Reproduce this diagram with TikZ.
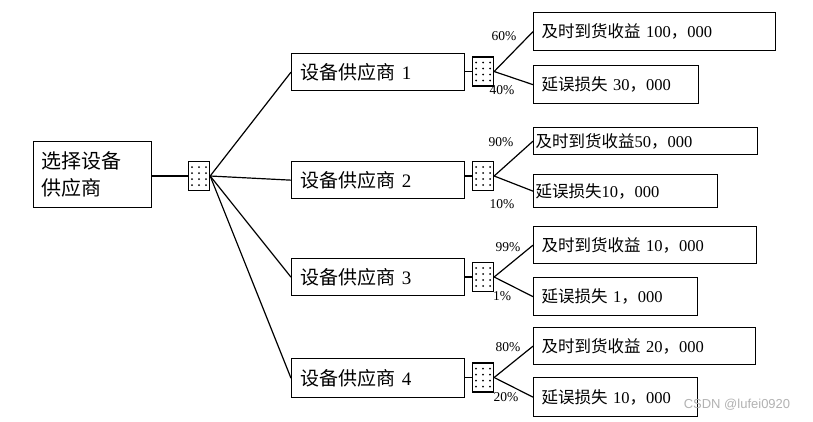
\documentclass[tikz,border=0pt]{standalone}
\usepackage{fontspec}
\setmainfont{Liberation Serif}
\newfontfamily\cjk{Noto Sans CJK SC}
\newfontfamily\wmfont{Liberation Sans}
\begin{document}
\begin{tikzpicture}[x=1pt,y=-1pt,
  box/.style={draw, line width=1.3pt, anchor=north west, inner ysep=0pt, inner xsep=8pt, align=left},
  outc/.style={box, font=\fontsize{16.5}{18}\selectfont},
  supp/.style={box, inner xsep=9pt, text width=155pt, minimum height=37pt, font=\fontsize{19}{22}\selectfont},
  chance/.style={draw, line width=1.3pt, minimum width=21pt, minimum height=29pt, inner sep=0pt,
    path picture={
      \foreach \xx in {-7,0,7}{
        \foreach \yy in {-9,-3,3,9}{
          \fill ([xshift=\xx pt, yshift=\yy pt]path picture bounding box.center) circle (1pt);}}}},
  pct/.style={inner sep=0pt, font=\fontsize{13.5}{13.5}\selectfont},
  link/.style={line width=1.2pt}]
\useasboundingbox (0,0) rectangle (813,421);

% root
\node[box, text width=102pt, minimum height=66pt, font=\fontsize{20}{27}\selectfont] (root) at (33,141) {{\cjk 选择设备}\\{\cjk 供应商}};
\node[chance] (rc) at (199,176) {};

% suppliers
\node[supp] (s1) at (291,53) {{\cjk 设备供应商} 1};
\node[supp] (s2) at (291,161) {{\cjk 设备供应商} 2};
\node[supp] (s3) at (291,258) {{\cjk 设备供应商} 3};
\node[supp, minimum height=39pt] (s4) at (291,358) {{\cjk 设备供应商} 4};

% chance nodes
\node[chance] (c1) at (483,71.5) {};
\node[chance] (c2) at (483,176) {};
\node[chance] (c3) at (483,277) {};
\node[chance] (c4) at (483,377.5) {};

% outcomes
\node[outc, text width=226pt, minimum height=38pt] (o1a) at (533,12) {{\cjk 及时到货收益} 100{\cjk ，}000};
\node[outc, text width=149pt, minimum height=38pt] (o1b) at (533,65) {{\cjk 延误损失} 30{\cjk ，}000};
\node[outc, inner xsep=2pt, text width=220pt, minimum height=27pt] (o2a) at (533,127) {{\cjk 及时到货收益}50{\cjk ，}000};
\node[outc, inner xsep=2pt, text width=180pt, minimum height=33pt] (o2b) at (533,174) {{\cjk 延误损失}10{\cjk ，}000};
\node[outc, text width=207pt, minimum height=37pt] (o3a) at (533,226) {{\cjk 及时到货收益} 10{\cjk ，}000};
\node[outc, text width=148pt, minimum height=38pt] (o3b) at (533,277) {{\cjk 延误损失} 1{\cjk ，}000};
\node[outc, text width=206pt, minimum height=37pt] (o4a) at (533,327) {{\cjk 及时到货收益} 20{\cjk ，}000};
\node[outc, text width=148pt, minimum height=39pt] (o4b) at (533,377) {{\cjk 延误损失} 10{\cjk ，}000};

% connectors
\draw[link] (root.east |- rc.west) -- (rc.west);
\foreach \s in {s1,s2,s3,s4}{\draw[link] (rc.east) -- (\s.west);}
\draw[link] (s1.east |- c1.west) -- (c1.west);
\draw[link] (s2.east |- c2.west) -- (c2.west);
\draw[link] (s3.east |- c3.west) -- (c3.west);
\draw[link] (s4.east |- c4.west) -- (c4.west);
\foreach \c/\a/\b in {c1/o1a/o1b,c2/o2a/o2b,c3/o3a/o3b,c4/o4a/o4b}{
  \draw[link] (\c.east) -- (\a.west);
  \draw[link] (\c.east) -- (\b.west);}

% probabilities
\node[pct] (p1a) at (504,36) {60\%};
\node[pct] (p1b) at (502,90) {40\%};
\node[pct] (p2a) at (501,142) {90\%};
\node[pct] (p2b) at (502,204) {10\%};
\node[pct] (p3a) at (508,247) {99\%};
\node[pct] (p3b) at (502,296) {1\%};
\node[pct] (p4a) at (508,347) {80\%};
\node[pct] (p4b) at (506,397) {20\%};

% watermark
\node[inner sep=0pt, text=gray!60, font=\wmfont\fontsize{13}{13}\selectfont] (wm) at (737,405) {CSDN @lufei0920};
\end{tikzpicture}
\end{document}
